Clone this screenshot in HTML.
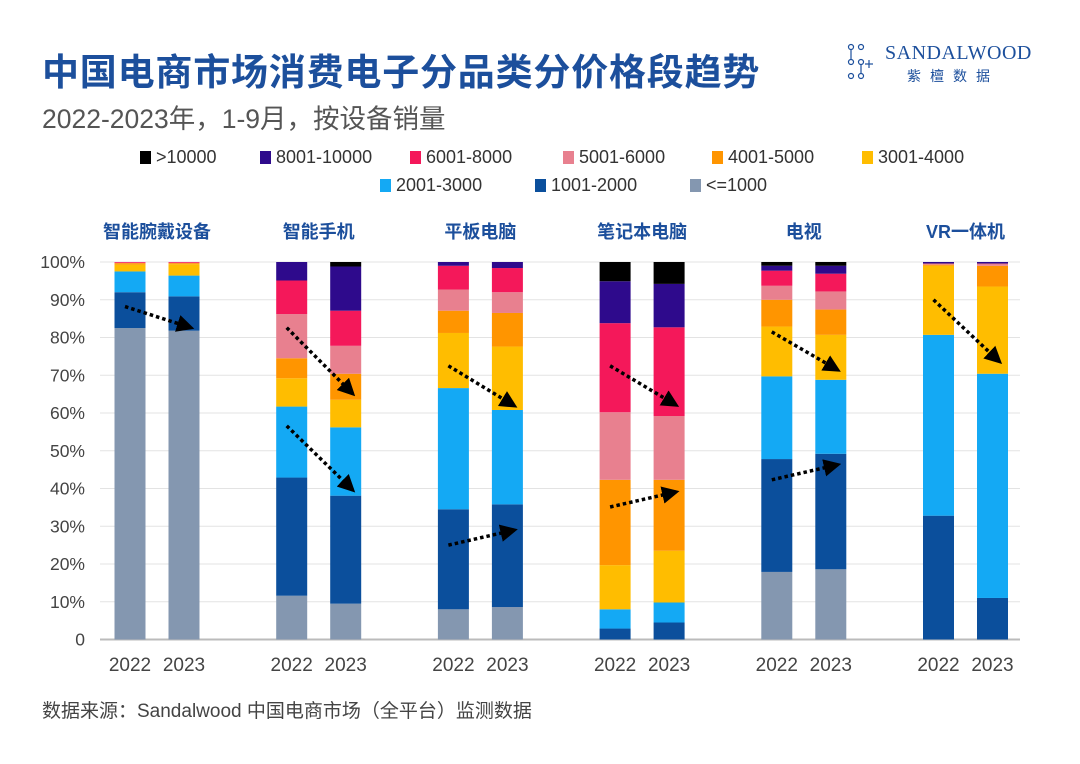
<!DOCTYPE html>
<html><head><meta charset="utf-8"><style>
body{margin:0;width:1080px;height:764px;background:#fff;overflow:hidden;font-family:"Liberation Sans","Noto Sans CJK SC",sans-serif;}
.t{position:absolute;white-space:nowrap}
</style></head><body>
<div class="t" style="left:42px;top:42px;font-size:37px;font-weight:bold;color:#1c4f9c;letter-spacing:0.8px">中国电商市场消费电子分品类分价格段趋势</div>
<div class="t" style="left:42px;top:97px;font-size:26.5px;color:#555">2022-2023年，1-9月，按设备销量</div>
<div style="position:absolute;left:845px;top:42px;width:190px;height:44px">
 <svg width="40" height="40" style="position:absolute;left:0;top:0"><g stroke="#1c4f9c" fill="none" stroke-width="1.2"><circle cx="6" cy="5" r="2.5"/><circle cx="16" cy="5" r="2.5"/><circle cx="6" cy="20" r="2.5"/><circle cx="16" cy="20" r="2.5"/><circle cx="6" cy="34" r="2.5"/><circle cx="16" cy="34" r="2.5"/><line x1="6" y1="8" x2="6" y2="17"/><line x1="16" y1="23" x2="16" y2="31"/><line x1="20" y1="22" x2="28" y2="22"/><line x1="24" y1="18" x2="24" y2="26"/></g></svg>
 <div class="t" style="left:40px;top:0;font-family:'Liberation Serif',serif;font-size:20px;color:#1c4f9c;letter-spacing:0.5px">SANDALWOOD</div>
 <div class="t" style="left:62px;top:24px;font-size:14px;color:#1c4f9c;letter-spacing:9px">紫檀数据</div>
</div>
<div id="legend"></div>
<svg id="chart" width="1080" height="764" style="position:absolute;left:0;top:0"></svg>
<div class="t" style="left:42px;top:696px;font-size:19px;color:#444">数据来源：Sandalwood 中国电商市场（全平台）监测数据</div>
<script>
const categories=["智能腕戴设备","智能手机","平板电脑","笔记本电脑","电视","VR一体机"];
const years=["2022","2023"];
const seriesNames=["<=1000","1001-2000","2001-3000","3001-4000","4001-5000","5001-6000","6001-8000","8001-10000",">10000"];
const seriesColors=["#8497b0","#0b4f9c","#14a9f4","#ffbd00","#ff9500","#e8808f","#f4185a","#2e0a8c","#000000"];
const wear2022=[82.5,9.5,5.5,1.8,0.4,0.1,0.2,0,0];
const wear2023=[81.8,9.1,5.5,3.0,0.3,0.1,0.2,0,0];
const phone2022=[11.6,31.3,18.8,7.5,5.3,11.7,8.9,4.9,0];
const phone2023=[9.5,28.6,18.1,7.3,6.9,7.4,9.3,11.7,1.2];
const tab2022=[8.0,26.5,32.1,14.6,5.9,5.6,6.3,1.0,0];
const tab2023=[8.6,27.2,25.0,16.8,8.9,5.5,6.4,1.6,0];
const lap2022=[0,2.9,5.1,11.7,22.6,17.9,23.6,11.1,5.1];
const lap2023=[0,4.5,5.3,13.7,18.8,16.9,23.5,11.5,5.8];
const tv2022=[17.9,29.9,21.9,13.2,7.1,3.7,4.0,1.3,1.0];
const tv2023=[18.6,30.6,19.6,11.9,6.7,4.8,4.7,2.1,1.0];
const vr2022=[0,32.8,47.9,18.3,0.3,0.3,0,0.4,0];
const vr2023=[0,11.0,59.4,23.1,5.5,0.6,0,0.4,0];
const values=[[wear2022,wear2023],[phone2022,phone2023],[tab2022,tab2023],[lap2022,lap2023],[tv2022,tv2023],[vr2022,vr2023]];
const yTicks=[0,10,20,30,40,50,60,70,80,90,100];
const yTickLabels=["0","10%","20%","30%","40%","50%","60%","70%","80%","90%","100%"];
const arrowCats=[0,1,1,2,2,3,3,4,4,5];
const arrowFrom=[88.2,82.6,56.6,72.5,25.0,72.5,35.1,81.5,42.3,90.0];
const arrowTo=[82.6,65.1,39.6,61.9,29.0,62.1,39.1,71.4,46.3,73.6];

const NS="http://www.w3.org/2000/svg";
const svg=document.getElementById('chart');
const y0=639.5,y1=262;
const yScale=v=>y0-(y0-y1)*v/100;
const groupX=i=>157+i*161.7;
const barW=31;
const barX=(i,j)=>groupX(i)+(j===0?-27:27)-barW/2;
function mk(tag,attrs){const e=document.createElementNS(NS,tag);for(const k in attrs)e.setAttribute(k,attrs[k]);svg.appendChild(e);return e;}
yTicks.forEach((t,k)=>{
 const g=mk('line',{x1:100,x2:1020,y1:yScale(t),y2:yScale(t),stroke:t===0?'#bbb':'#e3e3e3','stroke-width':t===0?2:1});
 
 
 const tx=mk('text',{x:85,y:yScale(t)+6,'text-anchor':'end','font-size':17.5,fill:'#444','font-family':'Liberation Sans, sans-serif'});
 tx.textContent=yTickLabels[k];
 
 
});
categories.forEach((c,i)=>{
 const ct=mk('text',{x:groupX(i),y:238,'text-anchor':'middle','font-size':18,'font-weight':'bold',fill:'#1c4f9c','font-family':'Liberation Sans, Noto Sans CJK SC, sans-serif'});
 ct.textContent=c;
 
 
 years.forEach((yr,j)=>{
  let cum=0;
  values[i][j].forEach((v,s)=>{
   if(v<=0)return;
   const r=mk('rect',{x:barX(i,j),width:barW,y:yScale(cum+v),height:yScale(cum)-yScale(cum+v),fill:seriesColors[s]});
   
   
   cum+=v;
  });
  const xl=mk('text',{x:barX(i,j)+barW/2,y:671,'text-anchor':'middle','font-size':19,fill:'#444','font-family':'Liberation Sans, sans-serif'});
  xl.textContent=yr;
  
  
 });
});
const defs=mk('defs',{});
defs.innerHTML='<marker id="ah" viewBox="0 0 10 10" refX="8" refY="5" markerWidth="5" markerHeight="5" orient="auto"><path d="M0,0 L10,5 L0,10 z" fill="#000"/></marker>';
arrowCats.forEach((c,k)=>{
 const a=mk('line',{x1:groupX(c)-32,y1:yScale(arrowFrom[k]),x2:groupX(c)+34,y2:yScale(arrowTo[k]),stroke:'#000','stroke-width':3.5,'stroke-dasharray':'3.5 3','marker-end':'url(#ah)'});
 
 
});
const leg=document.getElementById('legend');
const legendOrder=[8,7,6,5,4,3,2,1,0];
const legX=[140,260,410,563,712,862,380,535,690];
const legY=[146,146,146,146,146,146,174,174,174];
legendOrder.forEach((s,k)=>{
 const d=document.createElement('div');
 d.className='t';
 d.style.cssText='left:'+legX[k]+'px;top:'+legY[k]+'px;font-size:18px;color:#333;height:22px;line-height:22px';
 d.innerHTML='<span style="display:inline-block;width:11px;height:13px;background:'+seriesColors[s]+';margin-right:5px;vertical-align:-1px"></span>'+seriesNames[s].replace('<','&lt;').replace('>','&gt;');
 
 
 leg.appendChild(d);
});
</script>
</body></html>
